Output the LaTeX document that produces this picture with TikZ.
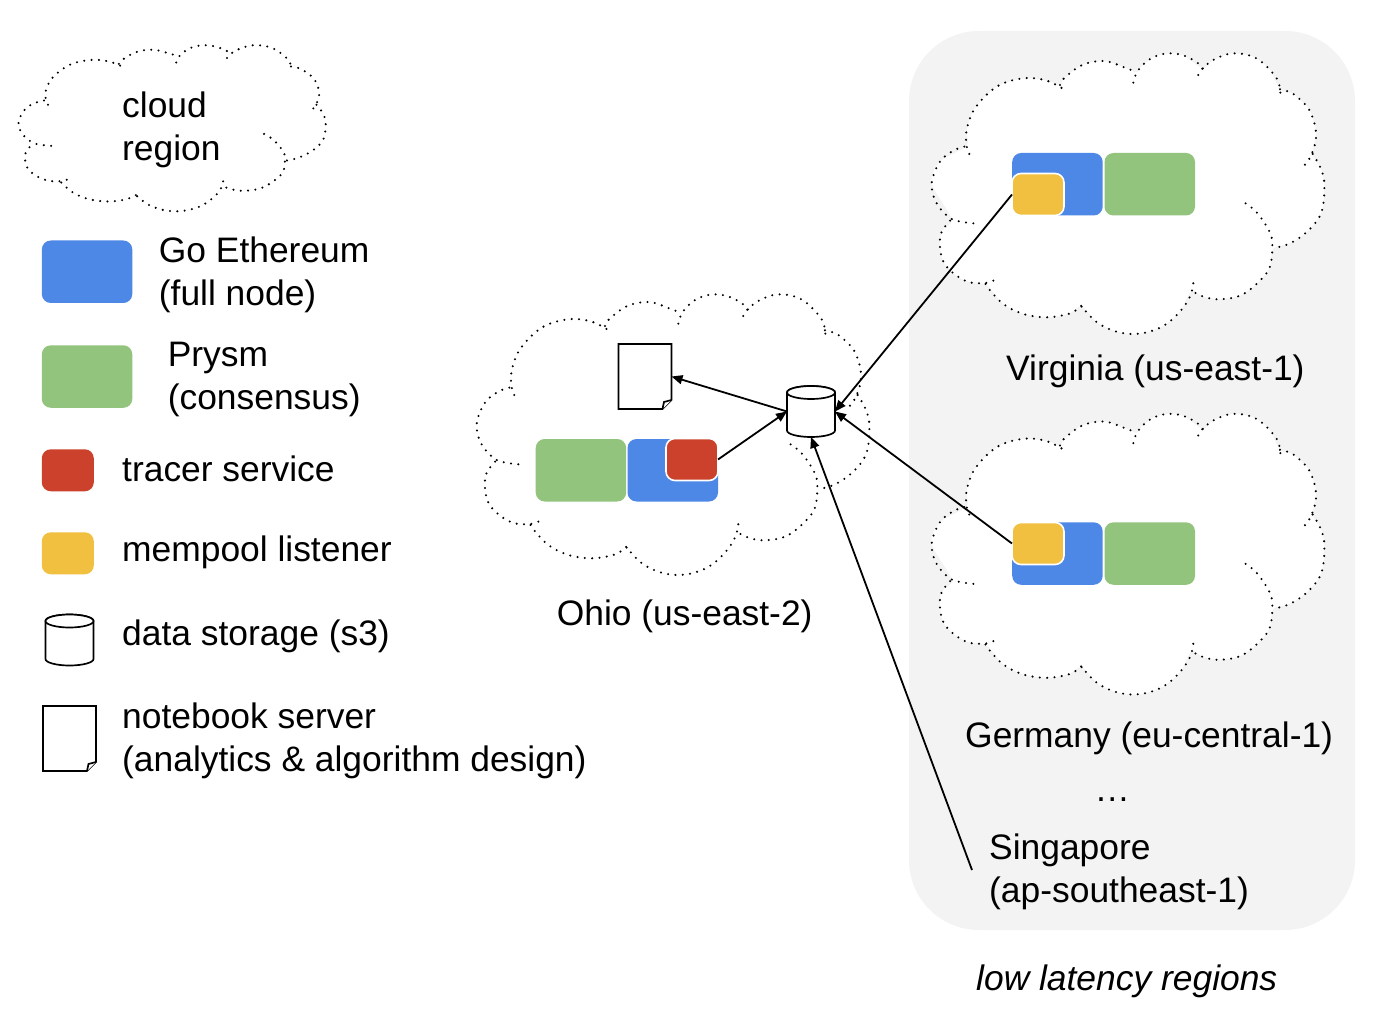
\documentclass[tikz,border=0pt]{standalone}
\usepackage{fontspec}
\setmainfont{Liberation Sans}
\usetikzlibrary{arrows.meta}
\definecolor{cblue}{HTML}{4E88E6}
\definecolor{cgreen}{HTML}{93C47D}
\definecolor{cred}{HTML}{CC412B}
\definecolor{cyellow}{HTML}{F1C040}
\definecolor{cpanel}{HTML}{F3F3F3}
\tikzset{
  box/.style={rounded corners=9pt,inner sep=0pt,outer sep=0pt,anchor=north west},
  bluebox/.style={box,fill=cblue,minimum width=90.5pt,minimum height=62.5pt},
  greenbox/.style={box,fill=cgreen,minimum width=90.5pt,minimum height=62.5pt},
  redbox/.style={box,fill=cred,minimum width=52pt,minimum height=42pt},
  yellowbox/.style={box,fill=cyellow,minimum width=52pt,minimum height=42pt},
  framed/.style={draw=white,line width=1.6pt},
  label/.style={font=\fontsize{35.4}{43}\selectfont,inner sep=0pt,anchor=base west,align=left},
  conn/.style={draw=black,line width=1.8pt,-{Triangle[length=11pt,width=9pt]}},
  dotline/.style={draw=black,line width=2.3pt,line cap=round,dash pattern=on 0pt off 7.35pt},
  storebox/.style={inner sep=0pt,outer sep=0pt,minimum width=48pt,minimum height=51pt},
  storeline/.style={draw=black,line width=1.7pt,fill=white},
  paperbox/.style={inner sep=0pt,outer sep=0pt,minimum width=53pt,minimum height=65pt,anchor=north west},
  paperline/.style={draw=black,line width=1.7pt,fill=white,line join=miter}
}
\newcommand{\cloudseg}[1]{\draw[dotline] plot[smooth,tension=0.6] coordinates {#1};}
\newcommand{\mycloud}[4]{%
\begin{scope}[shift={(#1,#2)},xscale=#3,yscale=#4]
\fill[white] plot[smooth cycle,tension=0.5] coordinates {(95,537)(35,430)(60,365)(140,318)(140,270)(165,205)(230,140)(310,115)(380,122)(420,135)(432,115)(487,75)(553,63)(620,85)(650,97)(665,78)(703,50)(748,40)(792,47)(848,85)(880,60)(925,42)(970,42)(1013,57)(1050,90)(1080,148)(1120,162)(1168,210)(1188,275)(1178,342)(1200,380)(1213,430)(1205,515)(1165,572)(1110,610)(1060,625)(1050,680)(1020,722)(965,765)(900,778)(850,770)(815,752)(780,815)(730,858)(665,880)(600,878)(535,850)(485,800)(445,822)(380,832)(310,822)(250,792)(200,735)(143,725)(100,700)(70,665)(60,620)(65,575)};
\cloudseg{(160,550)(95,537)(50,490)(35,430)(60,365)(100,332)(140,318)}
\cloudseg{(148,342)(140,318)(140,270)(165,205)(230,140)(310,115)(380,122)(438,152)}
\cloudseg{(420,135)(432,115)(487,75)(553,63)(620,85)(652,97)}
\cloudseg{(640,128)(647,105)(665,78)(703,50)(748,40)(792,47)(835,70)(850,88)}
\cloudseg{(835,105)(848,85)(880,60)(925,42)(970,42)(1013,57)(1050,90)(1075,125)(1082,168)}
\cloudseg{(1080,148)(1120,162)(1168,210)(1188,275)(1183,320)(1165,362)(1150,378)}
\cloudseg{(1178,342)(1200,380)(1213,430)(1205,515)(1165,572)(1110,610)(1060,625)}
\cloudseg{(977,490)(1013,520)(1050,578)(1057,620)(1050,680)(1020,722)(965,765)(900,778)(850,770)(815,752)}
\cloudseg{(820,730)(810,770)(780,815)(730,858)(665,880)(600,878)(535,850)(485,800)(472,780)}
\cloudseg{(485,800)(445,822)(380,832)(310,822)(250,792)(205,745)(195,728)}
\cloudseg{(220,722)(190,730)(143,725)(100,700)(70,665)(60,620)(65,575)(95,537)}
\end{scope}}
\newcommand{\paperat}[3]{%
\node[paperbox] (#1) at (#2,#3) {};
\draw[paperline] (#1.north west) -- (#1.north east) -- ([yshift=9pt]#1.south east) -- ([xshift=-9pt]#1.south east) -- (#1.south west) -- cycle;
\draw[paperline] ([xshift=-9pt]#1.south east) -- ([xshift=-7.5pt,yshift=7pt]#1.south east) -- ([yshift=9pt]#1.south east);}
\newcommand{\storeat}[3]{%
\node[storebox] (#1) at (#2,#3) {};
\draw[storeline] ([yshift=-6.5pt]#1.north west) -- ([yshift=6.5pt]#1.south west) arc[start angle=180,end angle=360,x radius=24pt,y radius=6.5pt] -- ([yshift=-6.5pt]#1.north east) arc[start angle=0,end angle=180,x radius=24pt,y radius=6.5pt] -- cycle;
\draw[storeline] ([yshift=-6.5pt]#1.north) ellipse[x radius=24pt,y radius=6.5pt];}
\begin{document}
\begin{tikzpicture}[x=1pt,y=-1pt]
\useasboundingbox (0,0) rectangle (1390,1024);
\fill[white] (0,0) rectangle (1390,1024);
\node[fill=cpanel,rounded corners=70pt,inner sep=0pt,outer sep=0pt,minimum width=446pt,minimum height=899pt,anchor=north west] (panel) at (909,31) {};

% clouds
\mycloud{9.4}{37.3}{0.2607}{0.1973}
\mycloud{465}{281}{0.3333}{0.3333}
\mycloud{920}{40}{0.3333}{0.3333}
\mycloud{920}{400.5}{0.3333}{0.3333}

% legend
\node[bluebox] (legblue) at (41.8,240.5) {};
\node[greenbox] (leggreen) at (41.8,345.3) {};
\node[redbox] (legred) at (41.8,449.3) {};
\node[yellowbox] (legyellow) at (41.8,532.3) {};
\storeat{legstore}{69.5}{640}
\paperat{legpaper}{43}{706}

% Ohio
\node[greenbox] (ogreen) at (535.7,439) {};
\node[bluebox] (oblue) at (627.5,439) {};
\node[redbox,framed] (ored) at (666,438.5) {};
\paperat{opaper}{618.5}{344}
\storeat{store}{811}{411.5}

% Virginia
\node[bluebox] (vblue) at (1012.2,153) {};
\node[greenbox] (vgreen) at (1104.5,153) {};
\node[yellowbox,framed] (vyellow) at (1012,173.5) {};

% Germany
\node[bluebox] (gblue) at (1012.2,522.3) {};
\node[greenbox] (ggreen) at (1104.5,522.3) {};
\node[yellowbox,framed] (gyellow) at (1012,522.5) {};

% connectors
\coordinate (sgp) at (972,870);
\draw[conn] (store.west) -- (opaper.east);
\draw[conn] (ored.east) -- (store.west);
\draw[conn] (vyellow.west) -- (store.east);
\draw[conn] (gyellow.west) -- (store.east);
\draw[conn] (sgp) -- (store.south);

% labels
\node[label] (tcloud) at (122,160.7) {cloud\\region};
\node[label] (tgeth) at (158.7,305.2) {Go Ethereum\\(full node)};
\node[label] (tprysm) at (167.6,409.3) {Prysm\\(consensus)};
\node[label] (ttracer) at (122,481.7) {tracer service};
\node[label] (tmempool) at (122,561.3) {mempool listener};
\node[label] (tdata) at (122,645.2) {data storage (s3)};
\node[label] (tnote) at (122,771.3) {notebook server\\(analytics \& algorithm design)};
\node[label] (tohio) at (556.6,625.3) {Ohio (us-east-2)};
\node[label] (tvirg) at (1006,380.7) {Virginia (us-east-1)};
\node[label] (tgerm) at (965,747) {Germany (eu-central-1)};
\node[label] (tdots) at (1094.3,801) {…};
\node[label] (tsing) at (989,902.2) {Singapore\\(ap-southeast-1)};
\node[label,font=\fontsize{35.4}{43}\selectfont\itshape] (tlow) at (976,990.2) {low latency regions};
\end{tikzpicture}
\end{document}
